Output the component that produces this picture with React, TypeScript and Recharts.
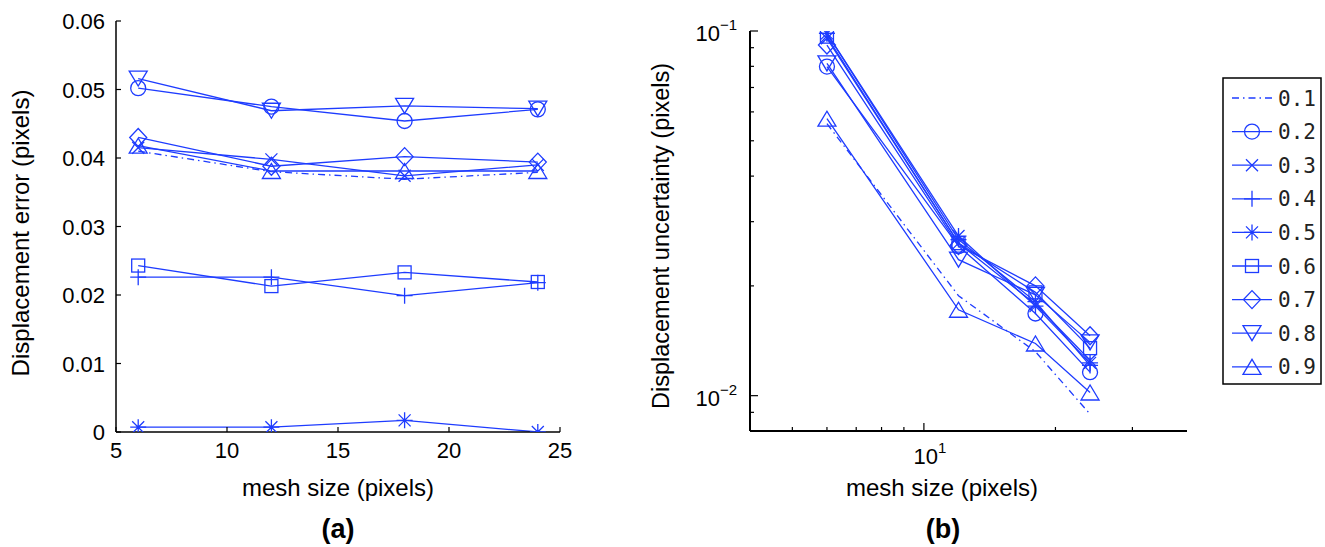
import { LineChart, Line, XAxis, YAxis } from "recharts";

const BLUE = "#1e3cff";
const FONT = "'Liberation Sans', Arial, Helvetica, sans-serif";
const MONO = "'DejaVu Sans Mono', 'Liberation Mono', monospace";

// mesh sizes (pixels)
const MESH = [6, 12, 18, 24];
const SERIES_LABELS = ["0.1", "0.2", "0.3", "0.4", "0.5", "0.6", "0.7", "0.8", "0.9"];

// (a) displacement error
const ERR_01 = [0.041, 0.038, 0.0369, 0.0379];
const ERR_02 = [0.0502, 0.0475, 0.0454, 0.0471];
const ERR_03 = [0.0415, 0.0398, 0.0374, 0.039];
const ERR_04 = [0.0226, 0.0226, 0.0199, 0.0218];
const ERR_05 = [0.0007, 0.0007, 0.0017, 0.0];
const ERR_06 = [0.0243, 0.0213, 0.0233, 0.0219];
const ERR_07 = [0.043, 0.0388, 0.0402, 0.0394];
const ERR_08 = [0.0516, 0.0469, 0.0476, 0.0472];
const ERR_09 = [0.0418, 0.0381, 0.0381, 0.0381];

// (b) displacement uncertainty
const UNC_01 = [0.0557, 0.0188, 0.0132, 0.0089];
const UNC_02 = [0.0799, 0.0257, 0.0168, 0.0116];
const UNC_03 = [0.0955, 0.0262, 0.0178, 0.0125];
const UNC_04 = [0.0985, 0.0268, 0.0181, 0.0121];
const UNC_05 = [0.0985, 0.0274, 0.0176, 0.0123];
const UNC_06 = [0.0965, 0.0262, 0.0192, 0.0135];
const UNC_07 = [0.0915, 0.0258, 0.02, 0.0146];
const UNC_08 = [0.0815, 0.0236, 0.0189, 0.014];
const UNC_09 = [0.0575, 0.0172, 0.0139, 0.0102];

// axis ticks
const ERR_TICKS = [0, 0.01, 0.02, 0.03, 0.04, 0.05, 0.06];
const MESH_TICKS = [5, 10, 15, 20, 25];
const LOG_X_TICKS = [5, 6, 7, 8, 9, 10, 20, 30];
const LOG_Y_TICKS = [0.009, 0.01, 0.02, 0.03, 0.04, 0.05, 0.06, 0.07, 0.08, 0.09, 0.1];

const ERR = [ERR_01, ERR_02, ERR_03, ERR_04, ERR_05, ERR_06, ERR_07, ERR_08, ERR_09];
const UNC = [UNC_01, UNC_02, UNC_03, UNC_04, UNC_05, UNC_06, UNC_07, UNC_08, UNC_09];

const keys = SERIES_LABELS.map((_, i) => `s${i + 1}`);
const toRows = (cols: number[][]) =>
  MESH.map((m, i) => {
    const row: { [k: string]: number } = { mesh: m };
    cols.forEach((c, j) => (row[keys[j]] = c[i]));
    return row;
  });
const errData = toRows(ERR);
const uncData = toRows(UNC);

type Kind = "none" | "circle" | "x" | "plus" | "star" | "square" | "diamond" | "down" | "up";
const MARKERS: Kind[] = ["none", "circle", "x", "plus", "star", "square", "diamond", "down", "up"];

function Marker({ kind, cx, cy }: { kind: Kind; cx: number; cy: number }) {
  const p = { stroke: BLUE, strokeWidth: 1.3, fill: "none" };
  if (cx == null || cy == null) return <g />;
  switch (kind) {
    case "circle":
      return <circle cx={cx} cy={cy} r={7.5} {...p} />;
    case "x":
      return (
        <path d={`M${cx - 6},${cy - 6}L${cx + 6},${cy + 6}M${cx - 6},${cy + 6}L${cx + 6},${cy - 6}`} {...p} />
      );
    case "plus":
      return <path d={`M${cx - 8},${cy}L${cx + 8},${cy}M${cx},${cy - 8}L${cx},${cy + 8}`} {...p} />;
    case "star":
      return (
        <path
          d={`M${cx - 8},${cy}L${cx + 8},${cy}M${cx},${cy - 8}L${cx},${cy + 8}M${cx - 6},${cy - 6}L${cx + 6},${cy + 6}M${cx - 6},${cy + 6}L${cx + 6},${cy - 6}`}
          {...p}
        />
      );
    case "square":
      return <rect x={cx - 6.5} y={cy - 6.5} width={13} height={13} {...p} />;
    case "diamond":
      return <path d={`M${cx},${cy - 9}L${cx + 8.5},${cy}L${cx},${cy + 9}L${cx - 8.5},${cy}Z`} {...p} />;
    case "down":
      return <path d={`M${cx - 9},${cy - 7.5}L${cx + 9},${cy - 7.5}L${cx},${cy + 7.5}Z`} {...p} />;
    case "up":
      return <path d={`M${cx - 9},${cy + 7.5}L${cx + 9},${cy + 7.5}L${cx},${cy - 7.5}Z`} {...p} />;
    default:
      return <g />;
  }
}

const DASH = "7 4 1.5 4";
const TICK_FS = 22;

// ---- ticks (drawn inward, MATLAB style) ----
const LinYTick = (props: any) => {
  const { x, y, payload } = props;
  const v = payload.value;
  return (
    <g>
      <line x1={x} x2={x + 5} y1={y} y2={y} stroke="#000" strokeWidth={1.2} />
      <text x={x - 11} y={y + 8} textAnchor="end" fontSize={TICK_FS} fontFamily={FONT} fill="#000">
        {v === 0 ? "0" : v.toFixed(2)}
      </text>
    </g>
  );
};

const LinXTick = (props: any) => {
  const { x, y, payload } = props;
  return (
    <g>
      <line x1={x} x2={x} y1={y} y2={y - 5} stroke="#000" strokeWidth={1.2} />
      <text x={x} y={y + 26} textAnchor="middle" fontSize={TICK_FS} fontFamily={FONT} fill="#000">
        {payload.value}
      </text>
    </g>
  );
};

const isDecade = (v: number) => Math.abs(Math.log10(v) - Math.round(Math.log10(v))) < 1e-9;

const Sup = ({ exp }: { exp: number }) => (
  <>
    10
    <tspan dy={-11} fontSize={15}>
      {exp < 0 ? `\u2212${-exp}` : `${exp}`}
    </tspan>
  </>
);

const LogYTick = (props: any) => {
  const { x, y, payload } = props;
  const v = payload.value;
  const major = isDecade(v);
  return (
    <g>
      <line x1={x} x2={x + (major ? 8 : 4)} y1={y} y2={y} stroke="#000" strokeWidth={1.2} />
      {major && (
        <text x={x - 13} y={y + 10} textAnchor="end" fontSize={TICK_FS} fontFamily={FONT} fill="#000">
          <Sup exp={Math.round(Math.log10(v))} />
        </text>
      )}
    </g>
  );
};

const LogXTick = (props: any) => {
  const { x, y, payload } = props;
  const v = payload.value;
  const major = isDecade(v);
  return (
    <g>
      <line x1={x} x2={x} y1={y} y2={y - (major ? 8 : 4)} stroke="#000" strokeWidth={1.2} />
      {major && (
        <text x={x + 6} y={y + 33} textAnchor="middle" fontSize={TICK_FS} fontFamily={FONT} fill="#000">
          <Sup exp={Math.round(Math.log10(v))} />
        </text>
      )}
    </g>
  );
};

const LogTopTick = (props: any) => {
  const { x, y, payload } = props;
  const major = isDecade(payload.value);
  return <line x1={x} x2={x} y1={y} y2={y + (major ? 8 : 4)} stroke="#000" strokeWidth={1.2} />;
};

const LogRightTick = (props: any) => {
  const { x, y, payload } = props;
  const major = isDecade(payload.value);
  return <line x1={x} x2={x - (major ? 8 : 4)} y1={y} y2={y} stroke="#000" strokeWidth={1.2} />;
};

const noTickLine = { tickLine: false, tickSize: 0, tickMargin: 0, interval: 0 as const };

function ErrorChart() {
  return (
    <LineChart width={600} height={547} data={errData} margin={{ top: 21, right: 40, left: 56, bottom: 85 }}>
      <XAxis
        dataKey="mesh"
        type="number"
        domain={[5, 25]}
        allowDataOverflow
        ticks={MESH_TICKS}
        tick={<LinXTick />}
        height={30}
        axisLine={{ stroke: "#000", strokeWidth: 1.5 }}
        {...noTickLine}
      />
      <YAxis
        type="number"
        domain={[0, 0.06]}
        allowDataOverflow
        ticks={ERR_TICKS}
        tick={<LinYTick />}
        width={60}
        axisLine={{ stroke: "#000", strokeWidth: 1.5 }}
        {...noTickLine}
      />
      {keys.map((k, i) => (
        <Line
          key={k}
          dataKey={k}
          type="linear"
          stroke={BLUE}
          strokeWidth={1.3}
          strokeDasharray={i === 0 ? DASH : undefined}
          dot={
            MARKERS[i] === "none"
              ? false
              : (p: any) => <Marker key={`${k}-${p.index}`} kind={MARKERS[i]} cx={p.cx} cy={p.cy} />
          }
          isAnimationActive={false}
        />
      ))}
    </LineChart>
  );
}

function UncertaintyChart() {
  const box = { stroke: "#000", strokeWidth: 2 };
  return (
    <LineChart width={705} height={547} data={uncData} margin={{ top: 31, right: 138, left: 60, bottom: 86 }}>
      <XAxis
        xAxisId="b"
        dataKey="mesh"
        type="number"
        scale="log"
        domain={[4, 40]}
        allowDataOverflow
        ticks={LOG_X_TICKS}
        tick={<LogXTick />}
        height={30}
        axisLine={box}
        {...noTickLine}
      />
      <XAxis
        xAxisId="t"
        orientation="top"
        dataKey="mesh"
        type="number"
        scale="log"
        domain={[4, 40]}
        allowDataOverflow
        ticks={LOG_X_TICKS}
        tick={<LogTopTick />}
        height={0}
        axisLine={box}
        {...noTickLine}
      />
      <YAxis
        yAxisId="l"
        type="number"
        scale="log"
        domain={[0.008, 0.1]}
        allowDataOverflow
        ticks={LOG_Y_TICKS}
        tick={<LogYTick />}
        width={70}
        axisLine={box}
        {...noTickLine}
      />
      <YAxis
        yAxisId="r"
        orientation="right"
        type="number"
        scale="log"
        domain={[0.008, 0.1]}
        allowDataOverflow
        ticks={LOG_Y_TICKS}
        tick={<LogRightTick />}
        width={0}
        axisLine={box}
        {...noTickLine}
      />
      {keys.map((k, i) => (
        <Line
          key={k}
          xAxisId="b"
          yAxisId="l"
          dataKey={k}
          type="linear"
          stroke={BLUE}
          strokeWidth={1.3}
          strokeDasharray={i === 0 ? DASH : undefined}
          dot={
            MARKERS[i] === "none"
              ? false
              : (p: any) => <Marker key={`${k}-${p.index}`} kind={MARKERS[i]} cx={p.cx} cy={p.cy} />
          }
          isAnimationActive={false}
        />
      ))}
    </LineChart>
  );
}

function LegendBox() {
  const rowH = 33.6;
  return (
    <svg width={100} height={308} style={{ position: "absolute", left: 1222, top: 77 }}>
      <rect x={1} y={1} width={98} height={306} fill="#fff" stroke="#000" strokeWidth={1.5} />
      {SERIES_LABELS.map((lab, i) => {
        const cy = 21 + i * rowH;
        return (
          <g key={lab}>
            <line
              x1={10}
              x2={50}
              y1={cy}
              y2={cy}
              stroke={BLUE}
              strokeWidth={1.3}
              strokeDasharray={i === 0 ? DASH : undefined}
            />
            <Marker kind={MARKERS[i]} cx={30} cy={cy} />
            <text x={56} y={cy + 7.5} fontSize={21} fontFamily={MONO} fill="#222">
              {lab}
            </text>
          </g>
        );
      })}
    </svg>
  );
}

function Titles() {
  const t = { fontFamily: FONT, fill: "#000", textAnchor: "middle" as const };
  return (
    <svg width={1325} height={547} style={{ position: "absolute", left: 0, top: 0, pointerEvents: "none" }}>
      <text {...t} fontSize={24} transform="translate(29,233) rotate(-90)">
        Displacement error (pixels)
      </text>
      <text {...t} fontSize={23.5} transform="translate(669,236) rotate(-90)">
        Displacement uncertainty (pixels)
      </text>
      <text {...t} fontSize={24} x={338} y={496}>
        mesh size (pixels)
      </text>
      <text {...t} fontSize={24} x={942} y={496}>
        mesh size (pixels)
      </text>
      <text {...t} fontSize={27} fontWeight="bold" x={338} y={538}>
        (a)
      </text>
      <text {...t} fontSize={27} fontWeight="bold" x={943} y={538}>
        (b)
      </text>
    </svg>
  );
}

export default function App() {
  return (
    <div style={{ position: "absolute", left: 0, top: 0, width: 1325, height: 547, background: "#fff" }}>
      <div style={{ position: "absolute", left: 0, top: 0 }}>
        <ErrorChart />
      </div>
      <div style={{ position: "absolute", left: 620, top: 0 }}>
        <UncertaintyChart />
      </div>
      <LegendBox />
      <Titles />
    </div>
  );
}
